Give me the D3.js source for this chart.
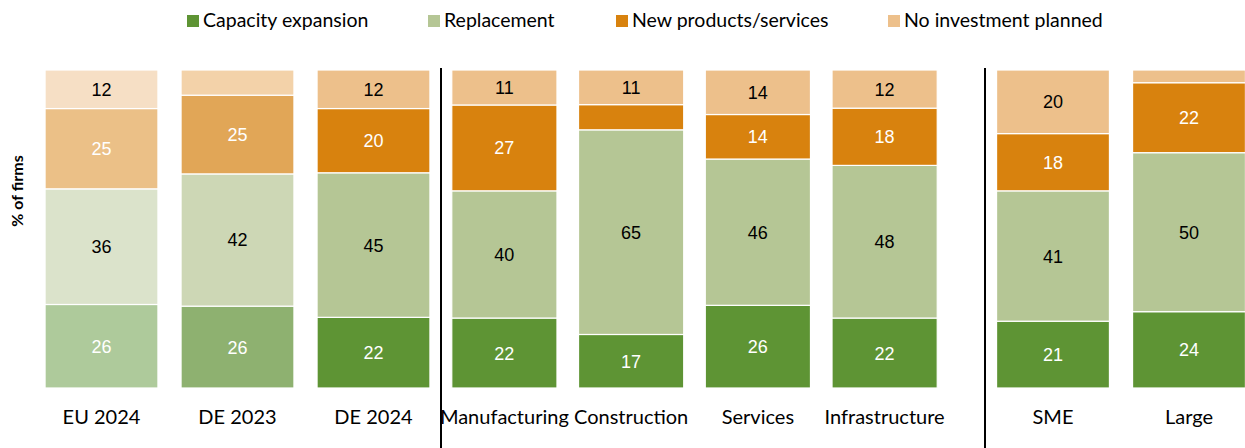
<!DOCTYPE html>
<html lang="en">
<head>
<meta charset="UTF-8" />
<title>Investment priorities</title>
<script src="https://d3js.org/d3.v7.min.js"></script>
<style>
  body { margin: 0; background: #fff; }
  svg { display: block; }
  .cat, .legend text { font-family: Lato, "Open Sans", sans-serif; fill: #000; }
  .val { font-family: "Liberation Sans", Arial, sans-serif; }
</style>
</head>
<body>
<div id="chart"></div>
<script>
// Data (% of firms)
const categories = ["EU 2024", "DE 2023", "DE 2024", "Manufacturing", "Construction", "Services", "Infrastructure", "SME", "Large"];
const groupOf = [0, 0, 0, 1, 1, 1, 1, 2, 2];
const seriesNames = ["Capacity expansion", "Replacement", "New products/services", "No investment planned"];
const capacity = [26, 26, 22, 22, 17, 26, 22, 21, 24];
const replacement = [36, 42, 45, 40, 65, 46, 48, 41, 50];
const newProducts = [25, 25, 20, 27, 8, 14, 18, 18, 22];
const noInvestment = [12, 8, 12, 11, 11, 14, 12, 20, 4];

// colour sets: EU 2024 faded, DE 2023 medium, the rest full
const colorsFaded = ["#aeca9b", "#dbe3cb", "#ebc087", "#f6dfc5"];
const colorsMedium = ["#8eb170", "#cdd7b5", "#e1a657", "#f3d2a9"];
const colorsFull = ["#5e9434", "#b5c695", "#d8820e", "#edc08b"];
const labelColors = ["#fff", "#000", "#fff", "#000"];

const width = 1245, height = 448;
const keys = ["cap", "rep", "new", "none"];

const rows = categories.map((c, i) => ({
  cat: c, idx: i, group: groupOf[i],
  cap: capacity[i], rep: replacement[i], new: newProducts[i], none: noInvestment[i]
}));

const svg = d3.select("#chart").append("svg")
  .attr("width", width)
  .attr("height", height);

const y = d3.scaleLinear().domain([0, 1]).range([388, 70]);

// three panels, each with its own band scale
const panelRanges = [[33.5, 441.5], [441, 948], [985, 1257]];
const xs = panelRanges.map((r, g) =>
  d3.scaleBand()
    .domain(rows.filter(d => d.group === g).map(d => d.cat))
    .range(r)
    .paddingInner(0.17)
    .paddingOuter(0.085)
);

const stacked = d3.stack().keys(keys).offset(d3.stackOffsetExpand)(rows);

function colorFor(si, d) {
  if (d.idx === 0) return colorsFaded[si];
  if (d.idx === 1) return colorsMedium[si];
  return colorsFull[si];
}

const layers = svg.append("g").selectAll("g")
  .data(stacked)
  .join("g");

layers.selectAll("rect")
  .data((s, si) => s.map(p => ({ p, si, d: p.data })))
  .join("rect")
  .attr("x", o => xs[o.d.group](o.d.cat))
  .attr("width", o => xs[o.d.group].bandwidth())
  .attr("y", o => y(o.p[1]))
  .attr("height", o => y(o.p[0]) - y(o.p[1]))
  .attr("fill", o => colorFor(o.si, o.d))
  .attr("stroke", "#fff")
  .attr("stroke-width", 1.2);

layers.selectAll("text")
  .data((s, si) => s.map(p => ({ p, si, d: p.data, v: p.data[keys[si]] })).filter(o => o.v >= 10))
  .join("text")
  .attr("class", "val")
  .attr("x", o => xs[o.d.group](o.d.cat) + xs[o.d.group].bandwidth() / 2)
  .attr("y", o => (y(o.p[0]) + y(o.p[1])) / 2)
  .attr("dy", "0.36em")
  .attr("text-anchor", "middle")
  .attr("font-size", 18)
  .attr("fill", o => labelColors[o.si])
  .text(o => o.v);

// category labels
svg.append("g").selectAll("text")
  .data(rows)
  .join("text")
  .attr("class", "cat")
  .attr("x", d => xs[d.group](d.cat) + xs[d.group].bandwidth() / 2)
  .attr("y", 424)
  .attr("text-anchor", "middle")
  .attr("font-size", 20)
  .text(d => d.cat);

// panel separators
svg.append("g").selectAll("line")
  .data([panelRanges[1][0], panelRanges[2][0]])
  .join("line")
  .attr("x1", d => d).attr("x2", d => d)
  .attr("y1", 68).attr("y2", height)
  .attr("stroke", "#000")
  .attr("stroke-width", 2);

// y title
svg.append("text")
  .attr("transform", "translate(23,191) rotate(-90)")
  .attr("text-anchor", "middle")
  .attr("font-family", "Lato, 'Open Sans', sans-serif")
  .attr("font-weight", "bold")
  .attr("font-size", 16)
  .text("% of firms");

// legend
const legendX = [187, 428, 616, 888];
const legend = svg.append("g").attr("class", "legend")
  .selectAll("g")
  .data(seriesNames)
  .join("g")
  .attr("transform", (d, i) => `translate(${legendX[i]},0)`);

legend.append("rect")
  .attr("x", 0).attr("y", 15)
  .attr("width", 12).attr("height", 12)
  .attr("fill", (d, i) => colorsFull[i]);

legend.append("text")
  .attr("x", 16)
  .attr("y", 27)
  .attr("font-size", 19.5)
  .text(d => d);
</script>
</body>
</html>
